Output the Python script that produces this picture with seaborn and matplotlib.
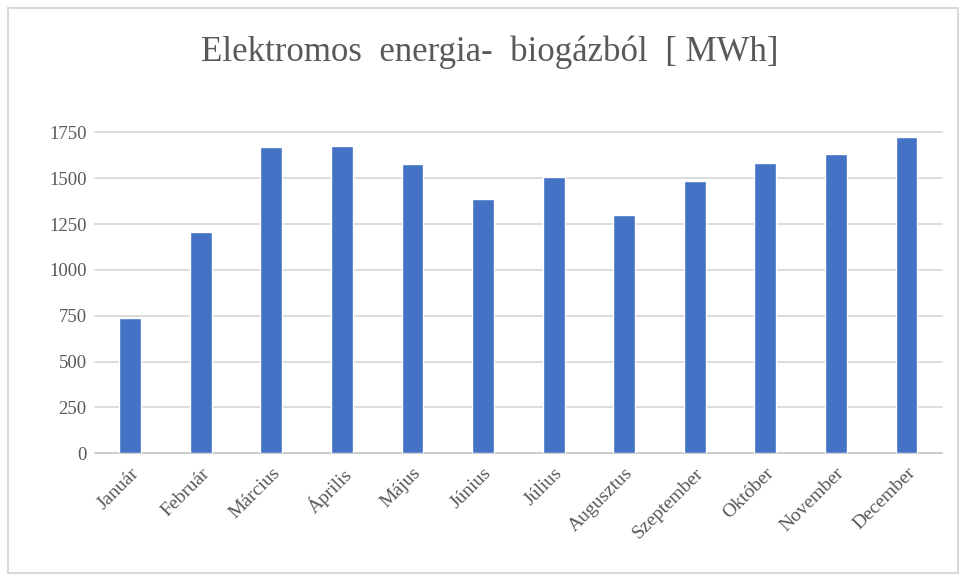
import matplotlib
matplotlib.use("Agg")
import matplotlib.pyplot as plt
from matplotlib.patches import Rectangle
import seaborn as sns
import pandas as pd

# Monthly electricity generated from biogas [MWh]
months = ["Január", "Február", "Március", "Április", "Május", "Június",
          "Július", "Augusztus", "Szeptember", "Október", "November", "December"]
energy_mwh = [738, 1206, 1668, 1677, 1577, 1388, 1506, 1297, 1486, 1584, 1633, 1725]
y_ticks = [0, 250, 500, 750, 1000, 1250, 1500, 1750]

df = pd.DataFrame({"month": months, "energy": energy_mwh})

sns.set_style("white")
plt.rcParams["font.family"] = ["Liberation Serif", "DejaVu Serif"]

fig = plt.figure(figsize=(9.59, 5.79), dpi=100)
ax = fig.add_axes([0.099, 0.217, 0.883, 0.5545])

sns.barplot(data=df, x="month", y="energy", color="#4472C4", width=0.31,
            saturation=1, ax=ax, zorder=3)

ax.set_ylim(0, 1750)
ax.set_xlim(-0.5, len(months) - 0.5)
ax.set_yticks(y_ticks)
ax.set_yticklabels([str(t) for t in y_ticks], fontsize=13.5, color="#595959")
ax.set_xticks(range(len(months)))
ax.set_xticklabels(months, rotation=45, ha="right", rotation_mode="anchor",
                   fontsize=14, color="#595959")
ax.tick_params(axis="both", length=0, pad=6)
ax.tick_params(axis="x", pad=8)
ax.set_xlabel("")
ax.set_ylabel("")

for s in ax.spines.values():
    s.set_visible(False)
for t in y_ticks:
    ax.axhline(t, color="#d9d9d9" if t else "#c8c8c8", lw=1.3, zorder=1, clip_on=False)

fig.text(0.511, 0.91, "Elektromos  energia-  biogázból  [ MWh]", ha="center", va="center",
         fontsize=25, color="#595959")

# light frame around the chart area
fig.patches.append(Rectangle((8 / 959, 1 - 573 / 579), 950 / 959, 565 / 579,
                             transform=fig.transFigure, fill=False,
                             edgecolor="#d9d9d9", lw=1.5))

fig.savefig("out.png", dpi=100, facecolor="white")
